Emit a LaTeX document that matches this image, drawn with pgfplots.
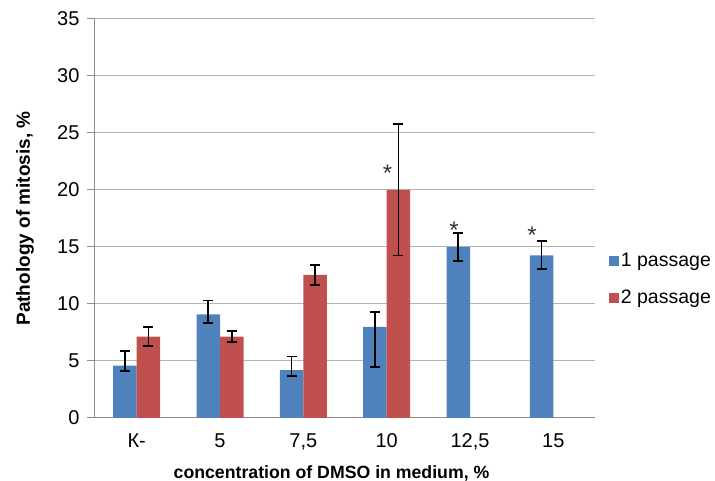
\documentclass[border=0pt]{standalone}
\usepackage{fontspec}
\setmainfont{Liberation Sans}
\usepackage{pgfplots}
\pgfplotsset{compat=1.18}
\definecolor{exblue}{RGB}{79,129,189}
\definecolor{exred}{RGB}{192,80,77}
\definecolor{gridgray}{RGB}{180,180,180}
\definecolor{axgray}{RGB}{140,140,140}
\begin{document}
\begin{tikzpicture}[x=1pt,y=1pt]
\useasboundingbox (0,0) rectangle (715,481);
\begin{axis}[
  at={(95pt,63pt)}, anchor=south west,
  scale only axis, width=500pt, height=399pt,
  xmin=-0.5, xmax=5.5, ymin=0, ymax=35,
  ybar=0pt, bar width=23.5pt,
  xtick={0,1,2,3,4,5},
  xticklabels={К-,5,{7,5},10,{12,5},15},
  ytick={0,5,...,35},
  axis x line*=bottom, axis y line*=left,
  axis line style={axgray, line width=1pt},
  x axis line style={-}, y axis line style={-},
  ymajorgrids, grid style={gridgray, line width=1pt},
  xtick style={draw=none},
  ytick style={axgray, line width=1pt},
  tick align=outside, major tick length=8pt,
  /pgf/number format/assume math mode=true,
  ticklabel style={font=\fontsize{20}{22}\selectfont},
  yticklabel style={xshift=-4pt},
  xticklabel style={yshift=-4pt},
  xlabel={\bfseries concentration of DMSO in medium, \%},
  ylabel={\bfseries Pathology of mitosis, \%},
  xlabel style={font=\fontsize{17.7}{20}\selectfont, at={(axis description cs:0.473,-0.138)}, anchor=center},
  ylabel style={font=\fontsize{19}{20}\selectfont, at={(axis description cs:-0.14,0.5)}, anchor=center},
  legend style={at={(rel axis cs:1.0214,0.348)}, anchor=west, draw=none,
    fill=none, font=\fontsize{19.5}{22}\selectfont, row sep=18pt,
    legend cell align=left},
  legend image code/.code={\fill[#1,draw=none] (0pt,-5pt) rectangle (10pt,5pt);},
  error bars/y dir=both, error bars/y explicit,
  error bars/error bar style={black, line width=1.8pt},
  error bars/error mark options={black, rotate=90, mark size=5pt, line width=1.8pt},
]
\addplot[fill=exblue, draw=none] coordinates {
  (0,4.6)  += (0,1.25) -= (0,0.5)
  (1,9.1)  += (0,1.2)  -= (0,0.8)
  (2,4.2)  += (0,1.2)  -= (0,0.55)
  (3,8.0)  += (0,1.27) -= (0,3.5)
  (4,15.0) += (0,1.25) -= (0,1.2)
  (5,14.27) += (0,1.23) -= (0,1.17)
};
\addplot[fill=exred, draw=none] coordinates {
  (0,7.13) += (0,0.82) -= (0,0.78)
  (1,7.13) += (0,0.53) -= (0,0.43)
  (2,12.55) += (0,0.85) -= (0,0.85)
  (3,20.0) += (0,5.8) -= (0,5.75)
};
\legend{1 passage, 2 passage}
\node[anchor=north, inner sep=0pt, text=black!80, font=\fontsize{24}{24}\selectfont] at (axis cs:3.012,22.2) {*};
\node[anchor=north, inner sep=0pt, text=black!80, font=\fontsize{24}{24}\selectfont] at (axis cs:3.808,17.2) {*};
\node[anchor=north, inner sep=0pt, text=black!80, font=\fontsize{24}{24}\selectfont] at (axis cs:4.744,16.8) {*};
\end{axis}
\end{tikzpicture}
\end{document}
